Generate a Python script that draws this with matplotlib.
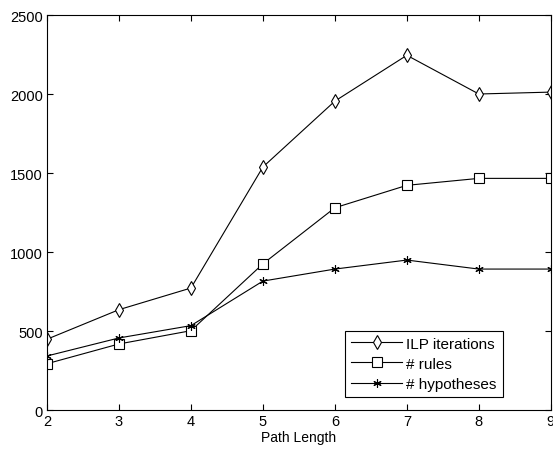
import matplotlib
matplotlib.use("Agg")
import matplotlib.pyplot as plt

plt.rcParams['font.family'] = ['Liberation Sans', 'DejaVu Sans']

path_length = [2, 3, 4, 5, 6, 7, 8, 9]
ilp_iterations = [448, 635, 772, 1538, 1955, 2245, 2000, 2012]
rules = [293, 418, 502, 925, 1280, 1422, 1466, 1466]
hypotheses = [342, 456, 534, 816, 892, 949, 892, 892]

fig = plt.figure(figsize=(5.53, 4.52), dpi=100)
ax = fig.add_axes([0.085, 0.0907, 0.911, 0.8739])

ax.plot(path_length, ilp_iterations, color='black', lw=0.8, marker='d',
        ms=7, mfc='white', mec='black', mew=0.8, label='ILP iterations')
ax.plot(path_length, rules, color='black', lw=0.8, marker='s',
        ms=7, mfc='white', mec='black', mew=0.8, label='# rules')
ax.plot(path_length, hypotheses, color='black', lw=0.8, marker=(6, 2, 0),
        ms=6, mec='black', mew=0.8, label='# hypotheses')

ax.set_xlim(2, 9)
ax.set_ylim(0, 2500)
ax.set_xticks(path_length)
ax.set_yticks([0, 500, 1000, 1500, 2000, 2500])
ax.tick_params(direction='in', top=True, right=True, length=4, width=0.8,
               labelsize=10.5, pad=3)
for s in ax.spines.values():
    s.set_linewidth(0.8)
ax.set_xlabel('Path Length', fontsize=10, labelpad=1)

leg = ax.legend(loc='lower right', bbox_to_anchor=(0.905, 0.033),
                fontsize=11, handlelength=3.3, fancybox=False,
                framealpha=1, edgecolor='black', borderpad=0.4,
                labelspacing=0.4, handletextpad=0.3, borderaxespad=0)
leg.get_frame().set_linewidth(0.8)

fig.savefig('out.png', dpi=100)
